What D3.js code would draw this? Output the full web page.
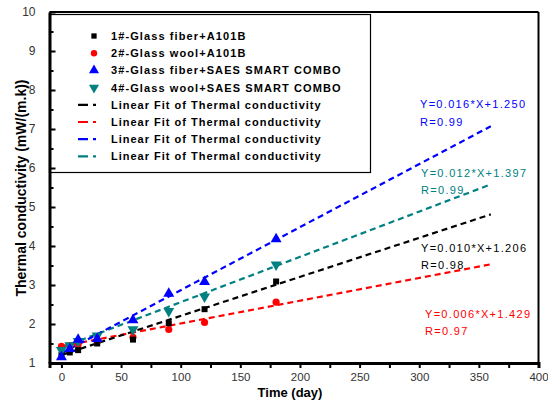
<!DOCTYPE html>
<html><head><meta charset="utf-8">
<script src="https://cdn.jsdelivr.net/npm/d3@7"></script>
<style>
html,body{margin:0;padding:0;background:#fff;}
svg{display:block;font-family:"Liberation Sans",Arial,sans-serif;}
</style></head>
<body><svg id="c" width="548" height="411"></svg>
<script>
// ---- data ----
const days = [0, 7, 14, 30, 60, 90, 120, 180];
const s1 = [1.20, 1.27, 1.33, 1.50, 1.60, 2.02, 2.38, 3.09];
const s2 = [1.43, 1.45, 1.47, 1.55, 1.66, 1.86, 2.04, 2.56];
const s3 = [1.15, 1.36, 1.60, 1.62, 2.10, 2.78, 3.08, 4.18];
const s4 = [1.33, 1.45, 1.56, 1.70, 1.86, 2.33, 2.70, 3.52];
const seriesNames = ["1#-Glass fiber+A101B","2#-Glass wool+A101B","3#-Glass fiber+SAES SMART COMBO","4#-Glass wool+SAES SMART COMBO"];
const fitName = "Linear Fit of Thermal conductivity";
const fitX = [0, 360];
const fitStart = [1.206, 1.429, 1.250, 1.397];
const fitEnd = [4.81, 3.53, 7.07, 5.58];
const fitEq = ["Y=0.010*X+1.206","Y=0.006*X+1.429","Y=0.016*X+1.250","Y=0.012*X+1.397"];
const fitR = ["R=0.98","R=0.97","R=0.99","R=0.99"];
const xTicks = [0,50,100,150,200,250,300,350,400];
const yTicks = [1,2,3,4,5,6,7,8,9,10];
const colors = ["#000000","#ff0000","#0000ff","#008080"];
const symbols = [d3.symbolSquare, d3.symbolCircle, d3.symbolTriangle, "down"];

const svg = d3.select("#c");
const x = d3.scaleLinear().domain([-10,400]).range([49.5,538.5]);
const y = d3.scaleLinear().domain([1,10]).range([363,12]);

// frame top/right
svg.append("line").attr("x1",x(-10)).attr("x2",x(400)).attr("y1",y(10)).attr("y2",y(10)).attr("stroke","#000").attr("stroke-width",2);
svg.append("line").attr("x1",x(400)).attr("x2",x(400)).attr("y1",y(10)).attr("y2",y(1)).attr("stroke","#000").attr("stroke-width",2);

// legend box
const lg = svg.append("g");
lg.append("rect").attr("x",x(-10)).attr("y",14.5).attr("width",321).attr("height",158).attr("fill","#fff").attr("stroke","#000").attr("stroke-width",1.2);

// axes
const xAxis = d3.axisBottom(x).tickValues(d3.range(0,401,25)).tickSize(5)
  .tickFormat(d => xTicks.includes(d) ? d : "");
const gx = svg.append("g").attr("transform",`translate(0,${y(1)})`).call(xAxis);
gx.select(".domain").attr("stroke-width",3);
gx.selectAll(".tick line").attr("stroke-width",2);
gx.selectAll(".tick text").attr("font-size",11.5).attr("fill","#333").attr("dy","0.9em").attr("font-family","Liberation Sans, Arial");

const yAxis = d3.axisLeft(y).tickValues(d3.range(1,10.01,0.5)).tickSizeInner(-5).tickSizeOuter(0)
  .tickFormat(d => yTicks.includes(d) ? d : "").tickPadding(14);
const gy = svg.append("g").attr("transform",`translate(${x(-10)},0)`).call(yAxis);
gy.select(".domain").attr("stroke-width",3);
gy.selectAll(".tick line").attr("stroke-width",2).attr("x2",(d)=> Number.isInteger(d)? 6:4);
gy.selectAll(".tick text").attr("font-size",12).attr("fill","#333").attr("font-family","Liberation Sans, Arial");

// titles
svg.append("text").attr("x",290).attr("y",397).attr("text-anchor","middle").attr("font-weight","bold").attr("font-size",13).text("Time (day)");
svg.append("text").attr("transform","translate(26,188) rotate(-90)").attr("text-anchor","middle").attr("font-weight","bold").attr("font-size",14).text("Thermal conductivity (mW/(m.k))");

// symbols
function sym(i, size){
  if (symbols[i] === "down") return d3.symbol().type(d3.symbolTriangle).size(size)();
  return d3.symbol().type(symbols[i]).size(size)();
}
const sizes = [36, 40, 52, 52];
const data = [s1,s2,s3,s4];

// fit lines
const fitData = fitStart.map((s,i)=>[[fitX[0],s],[fitX[1],fitEnd[i]]]);
const line = d3.line().x(d=>x(d[0])).y(d=>y(d[1]));
[1,0,3,2].forEach(i=>{
  svg.append("path").attr("d",line(fitData[i])).attr("fill","none").attr("stroke",colors[i]).attr("stroke-width",2.2).attr("stroke-dasharray","6,4");
});
// points
[1,0,3,2].forEach(i=>{
  svg.append("g").selectAll("path").data(days.map((d,k)=>[d,data[i][k]])).join("path")
    .attr("d",sym(i,sizes[i]))
    .attr("transform",d=>`translate(${x(d[0])},${y(d[1])})${symbols[i]==="down"?" rotate(180)":""}`)
    .attr("fill",colors[i]);
});

// legend entries
const rowY = d => 36 + d*17.2;
seriesNames.forEach((n,i)=>{
  lg.append("path").attr("d",sym(i,sizes[i]-8)).attr("transform",`translate(94,${rowY(i)})${symbols[i]==="down"?" rotate(180)":""}`).attr("fill",colors[i]);
  lg.append("text").attr("x",111).attr("y",rowY(i)).attr("dy","0.36em").attr("font-size",11).attr("font-weight","bold").attr("letter-spacing",1.1).text(n);
});
colors.forEach((c,i)=>{
  const yy = rowY(i+4);
  lg.append("line").attr("x1",78).attr("x2",101).attr("y1",yy).attr("y2",yy).attr("stroke",c).attr("stroke-width",2.2).attr("stroke-dasharray","10,5,3,20");
  lg.append("text").attr("x",111).attr("y",yy).attr("dy","0.36em").attr("font-size",11).attr("font-weight","bold").attr("letter-spacing",1.0).text(fitName);
});

// equations
const eqPos = [[421,248,265],[425,314,331],[420,104,122],[421,173,190]];
eqPos.forEach((p,i)=>{
  svg.append("text").attr("x",p[0]).attr("y",p[1]).attr("dy","0.36em").attr("font-size",11).attr("letter-spacing",1.3).attr("fill",colors[i]).text(fitEq[i]);
  svg.append("text").attr("x",p[0]).attr("y",p[2]).attr("dy","0.36em").attr("font-size",11).attr("letter-spacing",1.3).attr("fill",colors[i]).text(fitR[i]);
});
</script></body></html>
